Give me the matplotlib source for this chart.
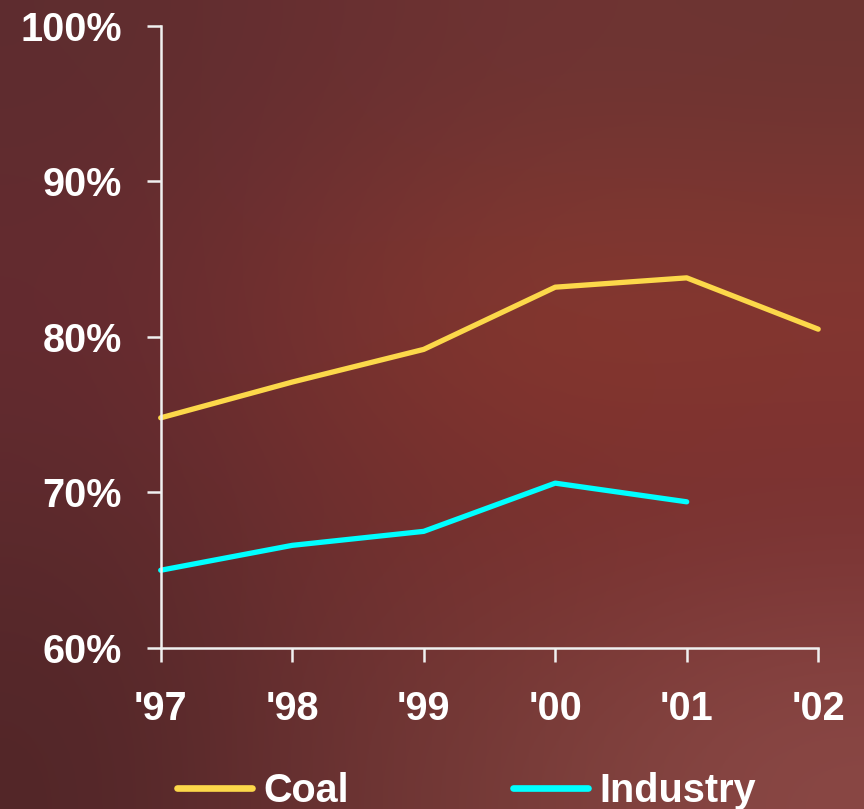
import numpy as np
import matplotlib
matplotlib.use("Agg")
import matplotlib.pyplot as plt
from matplotlib.colors import to_rgb

years = ["'97", "'98", "'99", "'00", "'01", "'02"]
coal = [74.8, 77.1, 79.2, 83.2, 83.8, 80.5]
industry = [65.0, 66.6, 67.5, 70.6, 69.4]
y_ticks = [60, 70, 80, 90, 100]

plt.rcParams['font.family'] = ['Liberation Sans', 'DejaVu Sans']
plt.rcParams['font.weight'] = 'bold'

fig = plt.figure(figsize=(8.64, 8.09), dpi=100)

# background: soft dark red gradient
bg_cols = [
    ["#5e2d2f", "#682f31", "#6e3433", "#6c3432"],
    ["#662a30", "#7a3330", "#8c3a2e", "#8a3830"],
    ["#5c2a2d", "#6e2e2e", "#782e2c", "#762f30"],
    ["#522628", "#6a3232", "#7a3e3a", "#8a4845"],
]
grid = np.array([[to_rgb(c) for c in row] for row in bg_cols])
bg = fig.add_axes([0, 0, 1, 1], zorder=-1)
bg.imshow(grid, aspect='auto', interpolation='bicubic', extent=[0, 1, 0, 1])
bg.axis('off')

ax = fig.add_axes([0.186, 0.199, 0.761, 0.769])
ax.patch.set_alpha(0)

x = np.arange(len(years))
ax.plot(x, coal, color="#fcd84a", lw=3.8, solid_capstyle='round',
        solid_joinstyle='round', label="Coal", clip_on=False)
ax.plot(x[:len(industry)], industry, color="#00ffff", lw=3.8,
        solid_capstyle='round', solid_joinstyle='round', label="Industry",
        clip_on=False)

ax.set_xlim(0, len(years) - 1)
ax.set_ylim(60, 100)
ax.set_xticks(x)
ax.set_xticklabels(years)
ax.set_yticks(y_ticks)
ax.set_yticklabels([f"{v}%" for v in y_ticks])

for s in ['top', 'right']:
    ax.spines[s].set_visible(False)
for s in ['left', 'bottom']:
    ax.spines[s].set_color("#f0f0f0")
    ax.spines[s].set_linewidth(1.8)

ax.tick_params(colors="#f0f0f0", width=1.8, length=10, direction='out',
               labelsize=28.5, labelcolor='white')
ax.tick_params(axis='y', pad=18)
ax.tick_params(axis='x', pad=20)

leg = fig.legend(loc='center left', bbox_to_anchor=(0.205, 0.022), ncol=2,
                 frameon=False, fontsize=28.5, handlelength=1.9,
                 handletextpad=0.28, columnspacing=4.15, borderpad=0,
                 borderaxespad=0)
for t in leg.get_texts():
    t.set_color('white')
for h in leg.get_lines():
    h.set_linewidth(4.8)

fig.savefig("out.png", dpi=100)
